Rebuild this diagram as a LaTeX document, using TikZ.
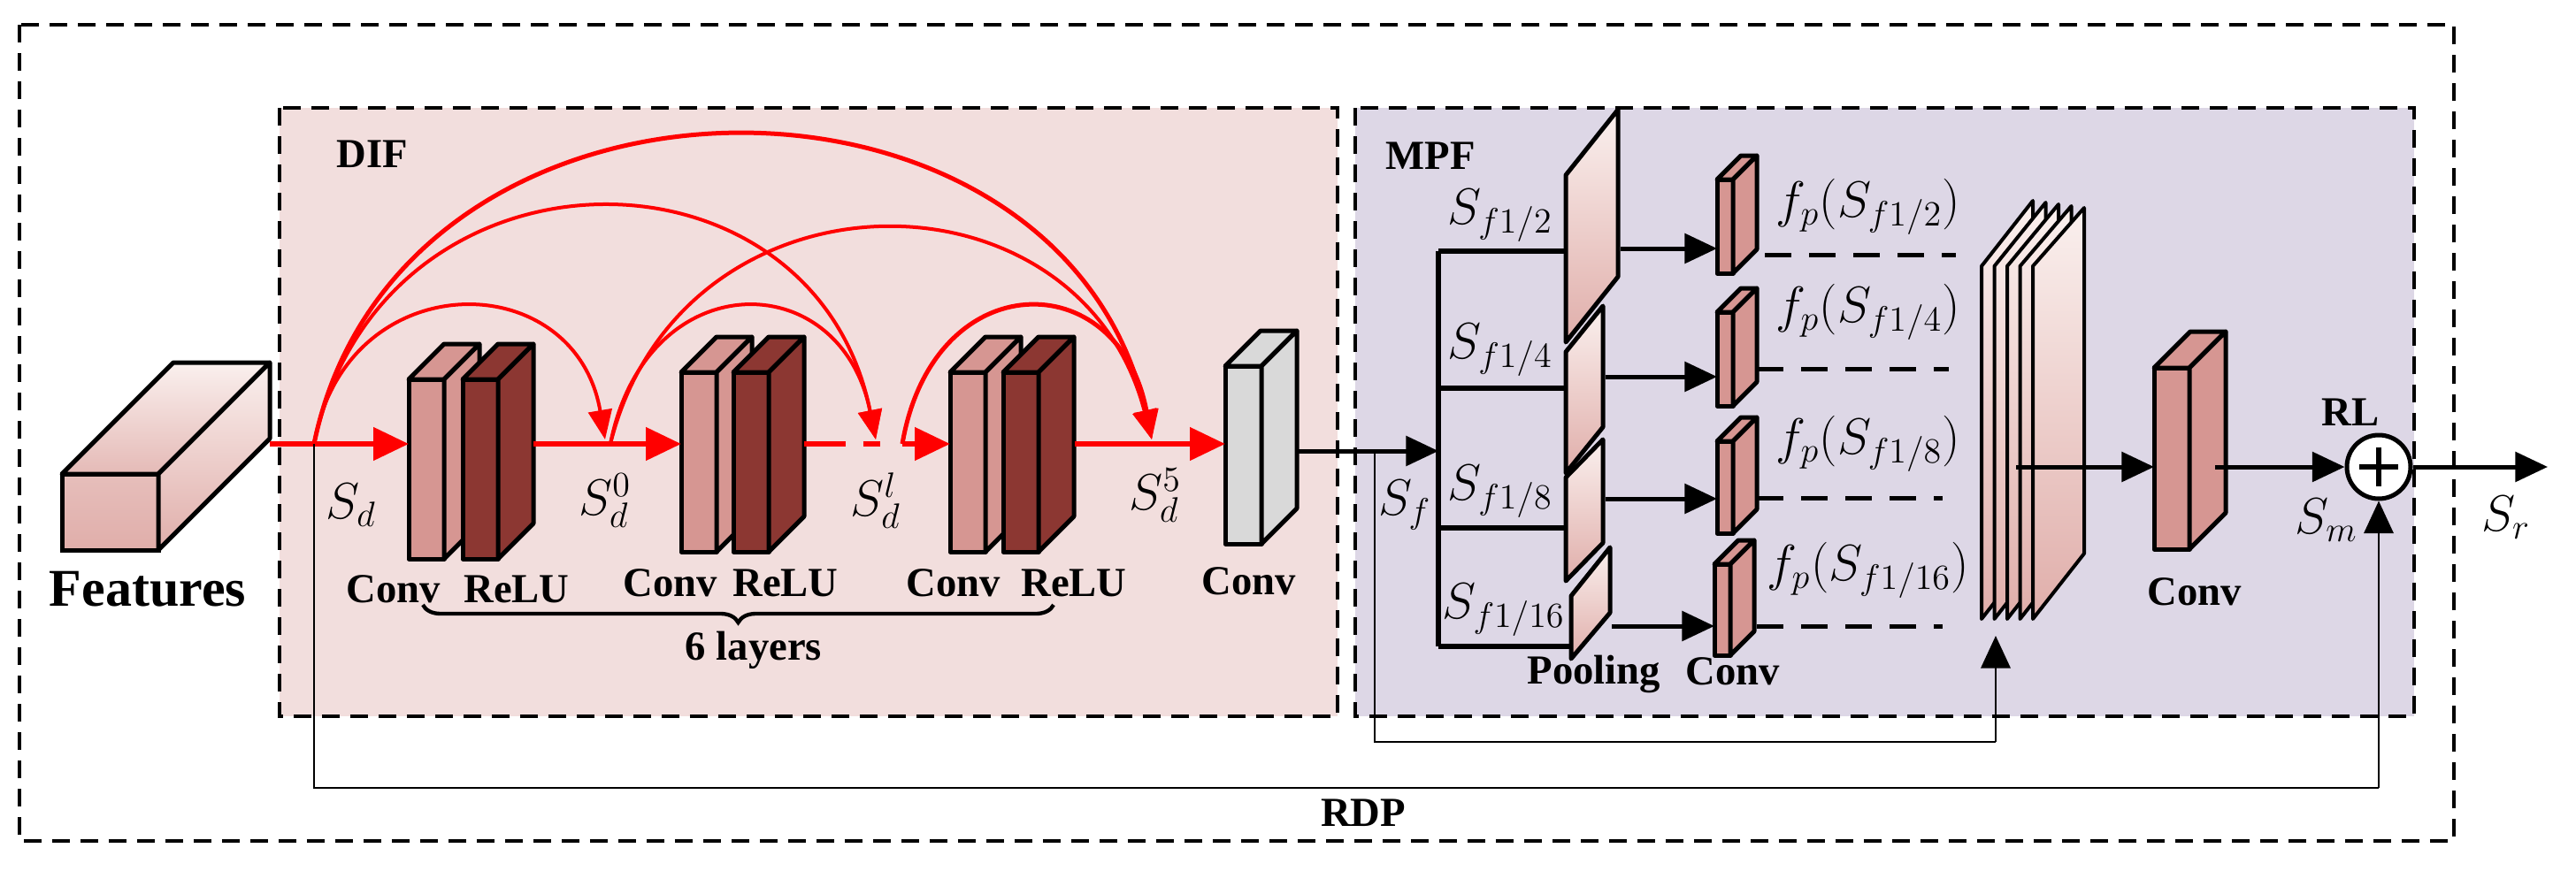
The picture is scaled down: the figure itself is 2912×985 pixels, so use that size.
\documentclass[tikz,border=0pt]{standalone}
\usepackage{fontspec}
\setmainfont{Liberation Serif}
\usetikzlibrary{arrows.meta,decorations.pathreplacing}
\definecolor{difbg}{RGB}{242,222,221}
\definecolor{mpfbg}{RGB}{221,215,230}
\definecolor{convc}{RGB}{214,150,146}
\definecolor{reluc}{RGB}{140,55,50}
\definecolor{grayc}{RGB}{217,217,217}
\definecolor{pinkA}{RGB}{224,174,170}
\definecolor{pinkW}{RGB}{250,240,238}
\definecolor{redc}{RGB}{255,0,0}
\newcommand\cuboid[7]{%
  \filldraw[#6,draw=black,line width=1.5pt,line join=round] (#1,#2) rectangle ({#1+#3},{#2+#4});
  \filldraw[#6,draw=black,line width=1.5pt,line join=round] (#1,#2) -- ({#1+#5},{#2-#5}) -- ({#1+#3+#5},{#2-#5}) -- ({#1+#3},#2) -- cycle;
  \filldraw[#6,draw=black,line width=1.5pt,line join=round] ({#1+#3},#2) -- ({#1+#3+#5},{#2-#5}) -- ({#1+#3+#5},{#2+#4-#5}) -- ({#1+#3},{#2+#4}) -- cycle;
  \coordinate (#7-w) at (#1,{#2+#4/2});
}
\tikzset{
  box/.style={line width=1.3pt,dash pattern=on 6pt off 3.6pt},
  lbl/.style={font=\fontsize{14}{17}\selectfont\bfseries,inner sep=0pt},
  mlbl/.style={font=\fontsize{17.28}{20}\selectfont,inner sep=0pt},
  rarr/.style={redc,line width=1.8pt,-{Triangle[length=12pt,width=11pt]}},
  rarc/.style={redc,line width=1.2pt,-{Triangle[length=10pt,width=8pt]}},
  barr/.style={black,line width=1.5pt,-{Triangle[length=11pt,width=10pt]}},
  thin/.style={black,line width=0.7pt},
  pool/.style={top color=pinkW,bottom color=pinkA,draw=black,line width=1.5pt,line join=round},
}
\begin{document}
\begin{tikzpicture}[x=0.3pt,y=-0.3pt]
\useasboundingbox (0,0) rectangle (2912,985);
% boxes
\fill[difbg] (316,122) rectangle (1512,810);
\fill[mpfbg] (1532,122) rectangle (2729,810);
\draw[box] (316,122) rectangle (1512,810);
\draw[box] (1532,122) rectangle (2729,810);
\draw[box] (22,28) rectangle (2774,951);
\node[lbl] (dif) at (421,174) {DIF};
\node[lbl] (mpf) at (1617,176) {MPF};
% features
\filldraw[top color=pinkA!80,bottom color=pinkA,draw=black,line width=1.5pt] (70,536) rectangle (179,622);
\filldraw[top color=pinkW,bottom color=pinkA!85,draw=black,line width=1.5pt,line join=round] (70,536) -- (196,410) -- (305,410) -- (179,536) -- cycle;
\filldraw[top color=pinkW,bottom color=pinkA,draw=black,line width=1.5pt,line join=round] (179,536) -- (305,410) -- (305,496) -- (179,622) -- cycle;
\node[font=\fontsize{18}{22}\selectfont\bfseries,inner sep=0pt] (feat) at (167,666) {Features};
\coordinate (fout) at (305,502);
\coordinate (sd) at (355,502);
% blocks
\cuboid{462}{429}{40}{203}{40}{convc}{c1}
\cuboid{523}{429}{40}{203}{40}{reluc}{r1}
\cuboid{770}{421}{40}{203}{40}{convc}{c2}
\cuboid{829}{421}{40}{203}{40}{reluc}{r2}
\cuboid{1074}{421}{40}{203}{40}{convc}{c3}
\cuboid{1134}{421}{40}{203}{40}{reluc}{r3}
\cuboid{1385}{414}{41}{201}{40}{grayc}{g}
\coordinate (c1in) at (462,502);
\coordinate (c2in) at (770,502);
\coordinate (c3in) at (1074,502);
\coordinate (gin) at (1385,502);
\coordinate (r1o) at (603,502);
\coordinate (r2o) at (909,502);
\coordinate (dash2) at (995,502);
\coordinate (s0) at (690,502);
\coordinate (sl) at (1020,502);
\coordinate (s5a) at (1215,502);
% red main arrows
\draw[redc,line width=1.8pt] (fout) -- (sd);
\draw[rarr] (sd) -- (c1in);
\draw[rarr] (r1o) -- (c2in);
\draw[redc,line width=1.8pt,dash pattern=on 14pt off 6pt] (r2o) -- (dash2);
\draw[rarr] (sl) -- (c3in);
\draw[rarr] (s5a) -- (gin);
% arcs
\coordinate (t0) at (684,497);
\coordinate (tl) at (990,497);
\coordinate (t5) at (1302,497);
\draw[rarc] (sd) .. controls (390,298) and (650,298) .. (t0);
\draw[rarc] (sd) .. controls (430,147) and (920,147) .. (tl);
\draw[rarc,line width=1.5pt] (sd) .. controls (450,39) and (1200,39) .. (t5);
\draw[rarc] (s0) .. controls (730,298) and (950,298) .. (tl);
\draw[rarc] (s0) .. controls (770,180) and (1220,180) .. (t5);
\draw[rarc,line width=1.5pt] (sl) .. controls (1055,298) and (1265,298) .. (t5);
% labels DIF
\node[mlbl] (lsd) at (397,571) {$S_d$};
\node[mlbl] (ls0) at (684,566) {$S_d^0$};
\node[mlbl] (lsl) at (990,566) {$S_d^l$};
\node[mlbl] (ls5) at (1306,560) {$S_d^5$};
\node[lbl] (lc1) at (445,666) {Conv};
\node[lbl] (lr1) at (584,666) {ReLU};
\node[lbl] (lc2) at (758,659) {Conv};
\node[lbl] (lr2) at (888,659) {ReLU};
\node[lbl] (lc3) at (1078,659) {Conv};
\node[lbl] (lr3) at (1214,659) {ReLU};
\node[lbl] (lg) at (1412,657) {Conv};
\coordinate (bl) at (478,684);
\coordinate (br) at (1191,684);
\draw[line width=1.3pt,decorate,decoration={brace,mirror,amplitude=6pt}] (bl) -- (br);
\node[lbl] (six) at (852,735) {6 layers};
% MPF
\coordinate (gout) at (1466,510);
\coordinate (tree) at (1626,510);
\draw[barr] (gout) -- (tree);
\node[mlbl] (lsf) at (1588,571) {$S_f$};
\coordinate (t1) at (1626,284);
\coordinate (t4) at (1626,731);
\draw[black,line width=1.8pt] (t1) -- (t4);
\coordinate (b1) at (1770,284);
\coordinate (b2a) at (1626,439);
\coordinate (b2) at (1770,439);
\coordinate (b3a) at (1626,597);
\coordinate (b3) at (1770,597);
\coordinate (b4) at (1776,731);
\draw[black,line width=1.8pt] (t1) -- (b1);
\draw[black,line width=1.8pt] (b2a) -- (b2);
\draw[black,line width=1.8pt] (b3a) -- (b3);
\draw[black,line width=1.8pt] (t4) -- (b4);
\filldraw[pool] (1770,198) -- (1829,124) -- (1829,313) -- (1770,387) -- cycle;
\filldraw[pool] (1770,398) -- (1812,346) -- (1812,483) -- (1770,535) -- cycle;
\filldraw[pool] (1770,540) -- (1812,497) -- (1812,614) -- (1770,657) -- cycle;
\filldraw[pool] (1776,674) -- (1820,619) -- (1820,693) -- (1776,745) -- cycle;
\node[mlbl] (lp1) at (1696,244) {$S_{f1/2}$};
\node[mlbl] (lp2) at (1696,396) {$S_{f1/4}$};
\node[mlbl] (lp3) at (1696,556) {$S_{f1/8}$};
\node[mlbl] (lp4) at (1700,690) {$S_{f1/16}$};
\cuboid{1941}{203}{18}{106}{27}{convc}{k1}
\cuboid{1941}{353}{18}{106}{27}{convc}{k2}
\cuboid{1941}{499}{18}{104}{27}{convc}{k3}
\cuboid{1938}{638}{18}{103}{27}{convc}{k4}
\coordinate (o1) at (1832,281);
\coordinate (e1) at (1941,281);
\coordinate (o2) at (1815,426);
\coordinate (e2) at (1941,426);
\coordinate (o3) at (1815,564);
\coordinate (e3) at (1941,564);
\coordinate (o4) at (1822,708);
\coordinate (e4) at (1938,708);
\draw[barr] (o1) -- (e1);
\draw[barr] (o2) -- (e2);
\draw[barr] (o3) -- (e3);
\draw[barr] (o4) -- (e4);
\node[mlbl] (f1) at (2112,234) {$f_p(S_{f1/2})$};
\node[mlbl] (f2) at (2112,353) {$f_p(S_{f1/4})$};
\node[mlbl] (f3) at (2112,502) {$f_p(S_{f1/8})$};
\node[mlbl] (f4) at (2112,645) {$f_p(S_{f1/16})$};
\draw[line width=1.5pt,dash pattern=on 9pt off 6pt] (1995,288) -- (2211,288);
\draw[line width=1.5pt,dash pattern=on 9pt off 6pt] (1986,417) -- (2203,417);
\draw[line width=1.5pt,dash pattern=on 9pt off 6pt] (1986,563) -- (2196,563);
\draw[line width=1.5pt,dash pattern=on 9pt off 6pt] (1986,708) -- (2196,708);
\node[lbl] (lpool) at (1802,762) {Pooling};
\node[lbl] (lpc) at (1959,759) {Conv};
% stack
\foreach \i in {0,...,4}{
  \filldraw[pool,line width=1.2pt] ({2240+14.5*\i},301) -- ({2298+14.5*\i},{227+2*\i}) -- ({2298+14.5*\i},626) -- ({2240+14.5*\i},700) -- cycle;
}
\cuboid{2435}{416}{40}{205}{41}{convc}{bc}
\node[lbl] (lbc) at (2481,669) {Conv};
\coordinate (so) at (2279,528);
\coordinate (bcin) at (2435,528);
\draw[barr] (so) -- (bcin);
\node[circle,draw=black,fill=white,line width=1.5pt,minimum size=21.6pt,inner sep=0pt] (plus) at (2689,528) {};
\draw[line width=2pt] (2689,506) -- (2689,550);
\draw[line width=2pt] (2667,528) -- (2711,528);
\coordinate (bco) at (2504,528);
\draw[barr] (bco) -- (plus.west);
\coordinate (sr) at (2880,528);
\draw[barr] (plus.east) -- (sr);
\node[lbl] (rl) at (2657,466) {RL};
\node[mlbl] (lsm) at (2630,588) {$S_m$};
\node[mlbl] (lsr) at (2833,585) {$S_r$};
% loops
\coordinate (rd1) at (355,891);
\coordinate (rd2) at (2689,891);
\draw[thin] (sd) -- (rd1) -- (rd2);
\draw[barr,line width=0.8pt] (rd2) -- (plus.south);
\coordinate (il0) at (1554,510);
\coordinate (il1) at (1554,839);
\coordinate (il2) at (2256,839);
\coordinate (il3) at (2256,719);
\draw[thin] (il0) -- (il1) -- (il2);
\draw[barr,line width=0.8pt] (il2) -- (il3);
\node[lbl] (rdp) at (1541,919) {RDP};
\end{tikzpicture}
\end{document}
